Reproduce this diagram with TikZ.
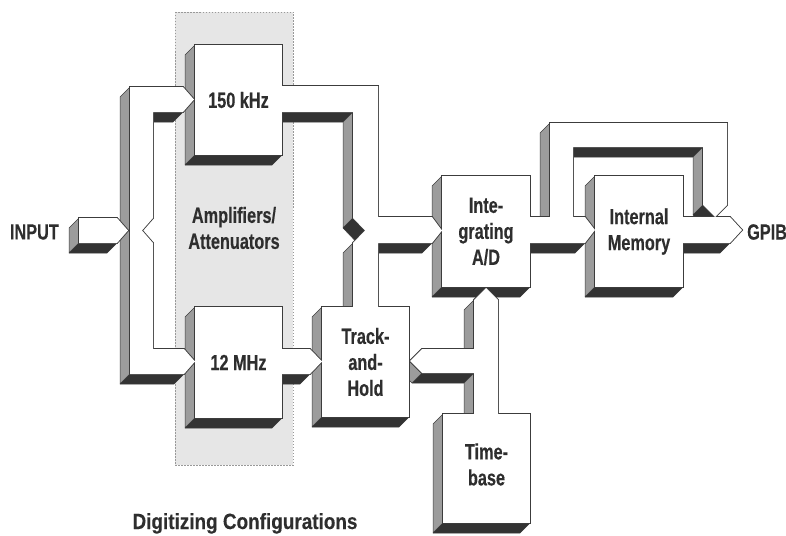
\documentclass[tikz,border=0pt]{standalone}
\usepackage{fontspec}
\setmainfont{Liberation Sans}[FakeStretch=0.74, BoldFeatures={FakeBold=0.3}]
\newfontfamily\capfont{Liberation Sans}[FakeStretch=0.86, BoldFeatures={FakeBold=0.3}]

\pgfdeclarelayer{fondo}
\pgfdeclarelayer{caras}
\pgfdeclarelayer{bordes}
\pgfdeclarelayer{frentes}
\pgfsetlayers{fondo,caras,bordes,frentes,main}

\definecolor{carasgris}{HTML}{9C9C9C}
\definecolor{carasoscura}{HTML}{333333}
\definecolor{tinta}{HTML}{3C3C3C}
\definecolor{zonagris}{HTML}{E6E6E6}
\definecolor{texto}{HTML}{2E2E2E}

\def\prof{10}

% cara lateral izquierda (x, y1, y2)
\newcommand{\caraizq}[3]{\begin{pgfonlayer}{caras}\filldraw[grayface] (#1,#2) -- (#1-\prof,#2+\prof) -- (#1-\prof,#3+\prof) -- (#1,#3) -- cycle;\end{pgfonlayer}}
% cara inferior (x1, x2, y)
\newcommand{\carainf}[3]{\begin{pgfonlayer}{caras}\filldraw[darkface] (#1,#3) -- (#2,#3) -- (#2-\prof,#3+\prof) -- (#1-\prof,#3+\prof) -- cycle;\end{pgfonlayer}}
% frente blanco con borde
\newcommand{\frente}[1]{\begin{pgfonlayer}{bordes}\draw[edgeline] #1;\end{pgfonlayer}\begin{pgfonlayer}{frentes}\fill[white] #1;\end{pgfonlayer}}
% bloque 3D ([ajuste y], nombre, x1, y1, x2, y2, texto)
\newcommand{\bloque}[7][0]{\caraizq{#3}{#4}{#6}\carainf{#3}{#5}{#6}\frente{(#3,#4) rectangle (#5,#6)}\node[boxlabel] (#2) at ({(#3+#5)/2},{(#4+#6)/2+#1}) {#7};}

\begin{document}
\begin{tikzpicture}[x=1pt, y=-1pt,
			grayface/.style={fill=carasgris, draw=tinta, line width=0.5pt, line join=round},
			darkface/.style={fill=carasoscura, draw=tinta, line width=0.5pt, line join=round},
			edgeline/.style={draw=tinta, line width=1.8pt, line join=miter},
			ampborde/.style={draw=gray!80, line width=0.7pt, dash pattern=on 1.5pt off 1.5pt},
			boxlabel/.style={font=\bfseries\fontsize{22}{26}\selectfont, align=center, text=texto, inner sep=0pt},
			caption/.style={font=\capfont\bfseries\fontsize{22}{26}\selectfont, text=texto, inner sep=0pt}
			]
	\useasboundingbox (0,0) rectangle (786,535);

	% Zona de amplificadores / atenuadores
	\begin{pgfonlayer}{fondo}
		\fill[zonagris] (175,12) rectangle (293,465);
		\draw[ampborde] (175,12) rectangle (293,465);
	\end{pgfonlayer}
	\node[boxlabel] (amp) at (234,228) {Amplifiers/\\Attenuators};

	% Bloques
	\bloque{khz}{195}{45}{282}{155}{150 kHz}
	\bloque{mhz}{195}{307}{282}{418}{12 MHz}
	\bloque{th}{322}{307}{409}{417}{Track-\\and-\\Hold}
	\bloque{adc}{442}{176}{530}{287}{Inte-\\grating\\A/D}
	\bloque{mem}{595}{176}{683}{287}{Internal\\Memory}
	\bloque[-4]{tb}{443}{414}{530}{523}{Time-\\base}

	% Entrada
	\caraizq{79}{218}{243}
	\carainf{79}{117}{243}
	\frente{(79,218) -- (117,218) -- (128,230.5) -- (117,243) -- (79,243) -- cycle}
	\node[boxlabel, anchor=east] (input) at (59,232) {INPUT};

	% Bus de entrada hacia los dos amplificadores
	\caraizq{130}{87}{374}
	\carainf{130}{184}{374}
	\carainf{153}{183}{112}
	\frente{(130,87) -- (183,87) -- (194,99.5) -- (183,112) -- (153,112) -- (153,218) -- (142,230.5) -- (153,243) -- (153,349) -- (184,349) -- (195,361.5) -- (184,374) -- (130,374) -- cycle}

	% Salida de 150 kHz hacia Track-and-Hold y A/D
	\carainf{281}{353}{112}
	\caraizq{353}{112}{218}
	\caraizq{353}{243}{308}
	\carainf{378}{432}{243}
	\begin{pgfonlayer}{caras}
		\filldraw[darkface] (353,218) -- (365,230.5) -- (355,240.5) -- (343,228) -- cycle;
	\end{pgfonlayer}
	\frente{(281,86) -- (378,86) -- (378,217) -- (432,217) -- (442,230.5) -- (432,243) -- (378,243) -- (378,308) -- (353,308) -- (353,243) -- (365,230.5) -- (353,218) -- (353,112) -- (281,112) -- cycle}

	% Salida de 12 MHz
	\carainf{281}{310}{374}
	\frente{(281,349) -- (310,349) -- (322,361.5) -- (310,374) -- (281,374) -- cycle}

	% Base de tiempo hacia A/D y Track-and-Hold
	\carainf{422}{474}{373}
	\caraizq{474}{300}{349}
	\caraizq{474}{373}{415}
	\begin{pgfonlayer}{caras}
		\filldraw[grayface] (410,361) -- (422,373) -- (412,383) -- (400,371) -- cycle;
	\end{pgfonlayer}
	\frente{(410,361) -- (422,349) -- (474,349) -- (474,300) -- (486,288) -- (498,300) -- (498,415) -- (474,415) -- (474,373) -- (422,373) -- cycle}

	% A/D hacia memoria
	\carainf{529}{585}{243}
	\frente{(529,217) -- (585,217) -- (595,230) -- (585,243) -- (529,243) -- cycle}

	% Camino directo A/D hacia GPIB
	\caraizq{550}{123}{217}
	\carainf{573}{703}{147}
	\caraizq{703}{147}{205}
	\begin{pgfonlayer}{caras}
		\filldraw[darkface] (703,205) -- (715,217) -- (705,227) -- (693,215) -- cycle;
	\end{pgfonlayer}
	\frente{(550,230) -- (550,123) -- (727,123) -- (727,205) -- (715,217) -- (703,205) -- (703,147) -- (573,147) -- (573,230) -- cycle}

	% Memoria hacia GPIB
	\carainf{682}{730}{243}
	\frente{(682,217) -- (730,217) -- (742,230) -- (730,243) -- (682,243) -- cycle}
	\node[boxlabel, anchor=west] (gpib) at (747,232) {GPIB};

	% Titulo
	\node[caption, anchor=base] (titulo) at (245,529) {Digitizing Configurations};

\end{tikzpicture}
\end{document}
